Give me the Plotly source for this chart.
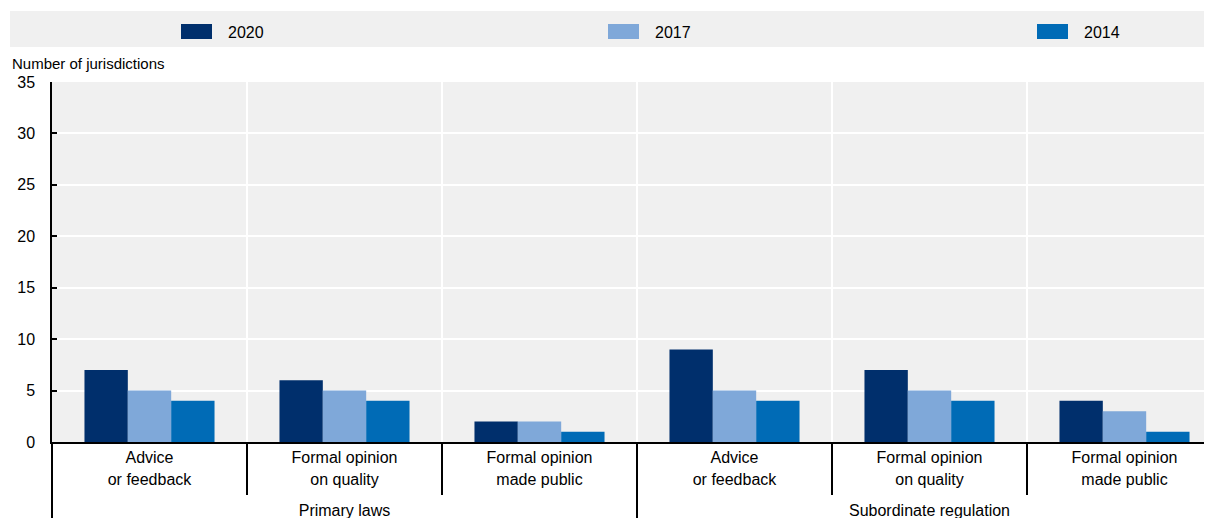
import plotly.graph_objects as go

# Data
group_names = ["Primary laws", "Subordinate regulation"]
category_names = [["Advice", "or feedback"], ["Formal opinion", "on quality"], ["Formal opinion", "made public"]]
years = ["2020", "2017", "2014"]
values_2020 = [7, 6, 2, 9, 7, 4]
values_2017 = [5, 5, 2, 5, 5, 3]
values_2014 = [4, 4, 1, 4, 4, 1]
colors = ["#002F6C", "#7FA8D9", "#006BB6"]

# the page body adds an 8px margin, so the figure is shrunk by that much
OFF = 8
W, H = 1212 - OFF, 518 - OFF
ML, MR, MT = 52 - OFF, 0, 82 - OFF
PH = 360
MB = H - MT - PH
PW = W - ML - MR


def px(x):
    # window pixel -> paper x
    return (x - OFF - ML) / PW


def py(y):
    # window pixel -> paper y
    return (MT + PH - (y - OFF)) / PH


def span(t):
    return "<span style='font-size:16px'>" + t + "</span>"


# tick font is a bit larger than the text so lines sit further apart;
# a small invisible first line pushes the group labels lower
spacer = "<span style='font-size:3px;color:rgba(0,0,0,0)'>.</span>"
cat_labels = [spacer + "<br>" + "<br>".join(span(p) for p in c) for c in category_names]
groups = [span(g) for g in group_names for _ in range(3)]
categories = cat_labels * 2

fig = go.Figure()
for name, vals, col in zip(years, [values_2020, values_2017, values_2014], colors):
    fig.add_trace(go.Bar(
        x=[groups, categories],
        y=vals,
        name=name,
        marker=dict(color=col, line=dict(width=0)),
        showlegend=False,
    ))

# legend band drawn by hand to get the wide swatches
shapes = [dict(type="rect", xref="paper", yref="paper", x0=px(10), x1=1,
               y0=py(47), y1=py(11), fillcolor="#f0f0f0", line=dict(width=0), layer="below")]
annotations = []
legend_x = [181, 608, 1037]
for name, col, lx in zip(years, colors, legend_x):
    shapes.append(dict(type="rect", xref="paper", yref="paper",
                       x0=px(lx), x1=px(lx + 31), y0=py(39), y1=py(24),
                       fillcolor=col, line=dict(width=0)))
    annotations.append(dict(text=name, xref="paper", yref="paper",
                            x=px(lx + 45), y=py(32), xanchor="left", yanchor="middle",
                            showarrow=False, font=dict(size=16, color="#000000")))

annotations.append(dict(text="Number of jurisdictions", xref="paper", yref="paper",
                        x=px(10), y=py(64), xanchor="left", yanchor="middle",
                        showarrow=False, font=dict(size=15, color="#000000")))

fig.update_layout(
    width=W, height=H,
    margin=dict(l=ML, r=MR, t=MT, b=MB, pad=0),
    plot_bgcolor="#f0f0f0",
    paper_bgcolor="#ffffff",
    font=dict(family="Liberation Sans, Arial, sans-serif", size=16, color="#000000"),
    barmode="group",
    bargap=0.333,
    bargroupgap=0,
    shapes=shapes,
    annotations=annotations,
)

fig.update_xaxes(
    type="multicategory",
    automargin=False,
    range=[-0.5, 5.5 - 10 / 195],
    showgrid=True, gridcolor="#ffffff", gridwidth=2,
    tickson="boundaries",
    ticks="outside", ticklen=51, tickcolor="#000000", tickwidth=1.5,
    ticklabelstandoff=-23,
    showline=True, linecolor="#000000", linewidth=1.5,
    showdividers=True, dividercolor="#000000", dividerwidth=1.5,
    tickfont=dict(size=17),
)

fig.update_yaxes(
    automargin=False,
    range=[0, 35],
    dtick=5,
    showgrid=True, gridcolor="#ffffff", gridwidth=2,
    zeroline=False,
    showline=True, linecolor="#000000", linewidth=1.5,
    ticks="inside", ticklen=5, tickcolor="#000000", tickwidth=1.5,
    ticklabelstandoff=12,
    tickfont=dict(size=16),
)

fig.write_html("out.html")
